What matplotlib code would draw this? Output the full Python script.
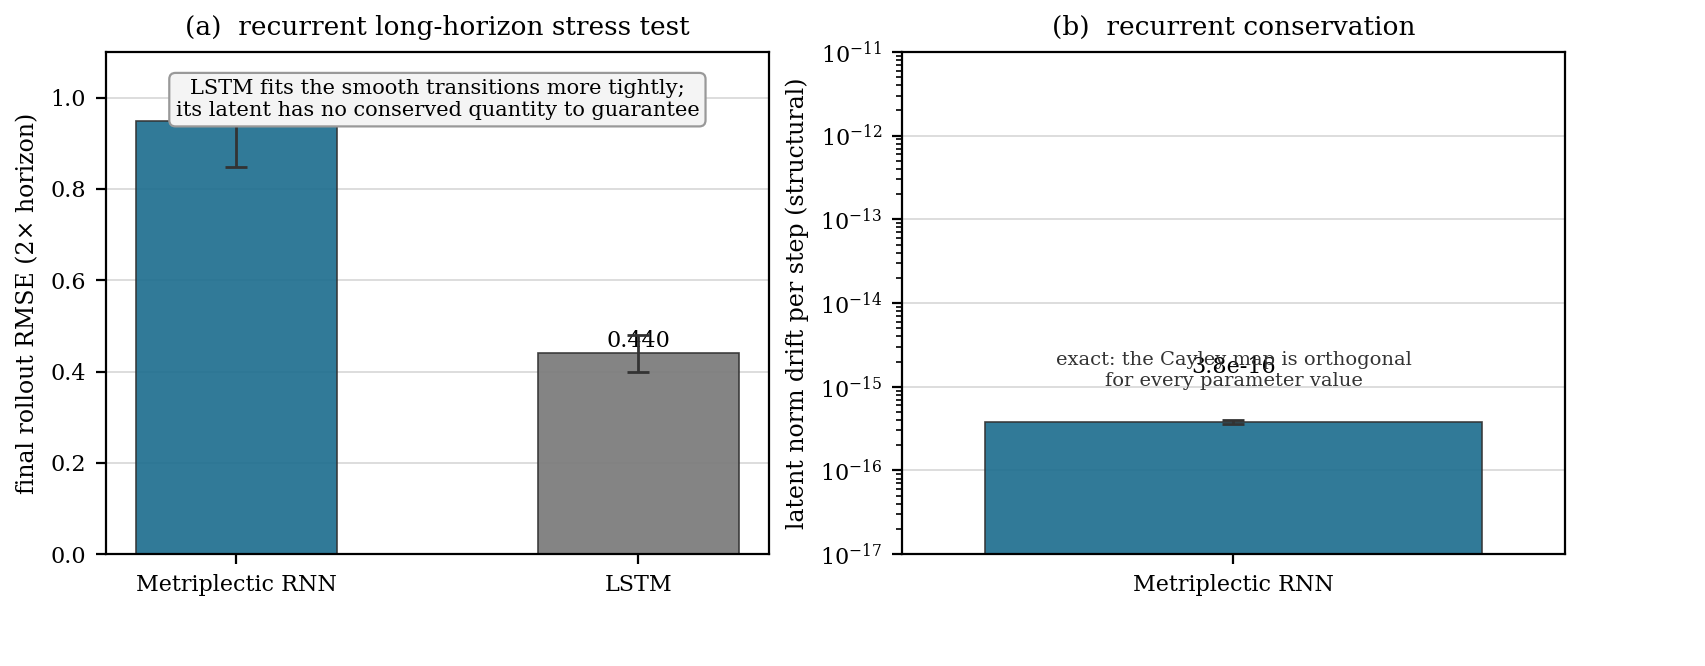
import matplotlib.pyplot as plt
import numpy as np

plt.rcParams['font.family'] = 'DejaVu Serif'

models_a = ["Metriplectic RNN", "LSTM"]
rmse = [0.948, 0.440]
rmse_err = [0.10, 0.04]
colors_a = ["#1f6f8f", "#7a7a7a"]

models_b = ["Metriplectic RNN"]
drift = [3.8e-16]
drift_err = [0.2e-16]

fig, (ax1, ax2) = plt.subplots(1, 2, figsize=(8.525, 3.33), dpi=200)
fig.subplots_adjust(left=0.062, right=0.918, top=0.922, bottom=0.168, wspace=0.2)

x = np.arange(len(models_a))
ax1.bar(x, rmse, width=0.5, color=colors_a, alpha=0.92, edgecolor='#333333',
        linewidth=0.6, yerr=rmse_err, capsize=4, error_kw=dict(ecolor='#333333', lw=1), zorder=2)
for xi, v in zip(x, rmse):
    ax1.text(xi, v + 0.003, f"{v:.3f}", ha='center', va='bottom', fontsize=8, zorder=1)
ax1.set_xticks(x)
ax1.set_xticklabels(models_a, fontsize=8)
ax1.set_ylim(0, 1.1)
ax1.set_ylabel("final rollout RMSE (2× horizon)", fontsize=8.5)
ax1.set_title("(a)  recurrent long-horizon stress test", fontsize=9.5)
ax1.yaxis.grid(True, color='#dddddd', lw=0.7, zorder=0)
ax1.set_axisbelow(True)
ax1.tick_params(labelsize=8)
ax1.text(0.5, 0.905, "LSTM fits the smooth transitions more tightly;\nits latent has no conserved quantity to guarantee",
         transform=ax1.transAxes, ha='center', va='center', fontsize=7.5, zorder=5,
         bbox=dict(boxstyle='round,pad=0.3', fc='#f4f4f4', ec='#999999', lw=0.8))

xb = np.arange(len(models_b))
ax2.bar(xb, drift, width=0.75, color="#1f6f8f", alpha=0.92, edgecolor='#333333', linewidth=0.6,
        yerr=drift_err, capsize=4, error_kw=dict(ecolor='#333333', lw=1), zorder=2)
for xi, v in zip(xb, drift):
    ax2.text(xi, v * 3.3, f"{v:.1e}", ha='center', va='bottom', fontsize=8)
ax2.set_yscale('log')
ax2.set_ylim(1e-17, 1e-11)
ax2.set_xlim(-0.5, 0.5)
ax2.set_xticks(xb)
ax2.set_xticklabels(models_b, fontsize=8)
ax2.set_ylabel("latent norm drift per step (structural)", fontsize=8.5)
ax2.set_title("(b)  recurrent conservation", fontsize=9.5)
ax2.yaxis.grid(True, color='#dddddd', lw=0.7, zorder=0)
ax2.set_axisbelow(True)
ax2.tick_params(labelsize=8)
ax2.text(0.5, 0.365, "exact: the Cayley map is orthogonal\nfor every parameter value",
         transform=ax2.transAxes, ha='center', va='center', fontsize=7, color='#333333')

plt.savefig("out.png", dpi=200)
